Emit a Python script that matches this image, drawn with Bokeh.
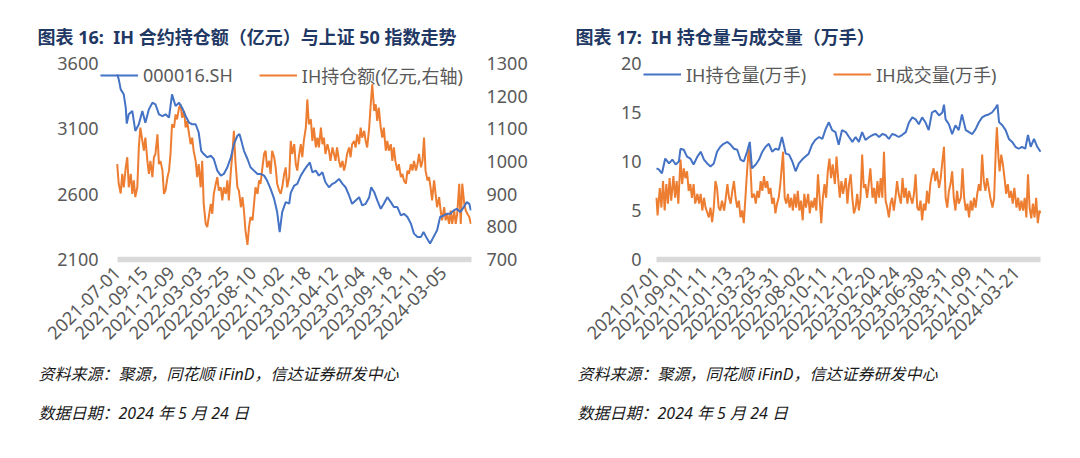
from math import pi
from bokeh.plotting import figure
from bokeh.models import Range1d, LinearAxis, FixedTicker, Legend, LegendItem
from bokeh.core.properties import value
from bokeh.layouts import row, column
from bokeh.embed import file_html
from bokeh.resources import INLINE

# ---------------- data (x = trading-day number counted from 2021-07-01) ----------------
# Chart 16: 上证50 (000016.SH, left axis) and IH 持仓额 (亿元, right axis)
sz50_day = [0, 3, 7, 13, 17, 19, 23, 30, 36, 43, 50, 56, 63, 70, 76, 83, 90, 96, 103, 109,
            116, 123, 129, 136, 143, 149, 156, 162, 167, 172, 179, 186, 192, 199, 206, 212,
            219, 226, 232, 239, 243, 246, 252, 259, 265, 272, 279, 285, 292, 298, 305, 312,
            318, 323, 328, 335, 342, 345, 352, 358, 365, 371, 378, 383, 388, 395, 401, 408,
            414, 421, 428, 434, 441, 448, 454, 461, 467, 474, 481, 487, 494, 501, 505, 511,
            517, 524, 530, 537, 544, 550, 557, 564, 570, 577, 584, 590, 597, 604, 609, 616,
            622, 629, 636, 642, 649, 655, 662, 669, 675, 682, 689, 695, 700, 703]
sz50_close = [3516, 3480, 3402, 3364, 3262, 3140, 3211, 3237, 3084, 3135, 3237, 3147, 3249,
              3300, 3288, 3211, 3198, 3211, 3186, 3364, 3275, 3300, 3262, 3198, 3147, 3135,
              3135, 3072, 2932, 2907, 2882, 2894, 2869, 2780, 2742, 2755, 2806, 2882, 2983,
              3047, 3060, 3021, 2932, 2869, 2806, 2780, 2755, 2755, 2742, 2704, 2640, 2564,
              2463, 2310, 2463, 2539, 2527, 2610, 2666, 2679, 2742, 2780, 2818, 2843, 2767,
              2780, 2742, 2767, 2691, 2653, 2679, 2691, 2717, 2679, 2653, 2590, 2526, 2552,
              2577, 2514, 2526, 2577, 2653, 2615, 2552, 2488, 2526, 2577, 2539, 2501, 2501,
              2437, 2450, 2425, 2374, 2298, 2273, 2273, 2311, 2260, 2222, 2273, 2324, 2425,
              2437, 2450, 2450, 2476, 2488, 2463, 2501, 2539, 2526, 2476]

ih_amt_day = [0, 3, 7, 10, 13, 17, 20, 23, 27, 30, 33, 36, 40, 43, 46, 50, 53, 56, 60, 63, 66,
              70, 73, 76, 80, 83, 86, 90, 93, 96, 100, 103, 106, 109, 113, 116, 119, 123, 126,
              129, 133, 136, 139, 143, 146, 149, 152, 156, 159, 162, 166, 169, 172, 176, 179,
              182, 186, 189, 192, 196, 199, 202, 206, 209, 212, 216, 219, 222, 226, 229, 232,
              235, 239, 242, 246, 249, 252, 255, 259, 262, 265, 269, 272, 275, 279, 282, 285,
              288, 292, 295, 298, 302, 305, 308, 312, 315, 318, 322, 325, 328, 332, 335, 338,
              342, 345, 348, 352, 355, 358, 361, 365, 368, 371, 375, 378, 381, 385, 388, 391,
              395, 398, 401, 405, 408, 411, 414, 418, 421, 424, 428, 431, 434, 437, 441, 444,
              448, 451, 454, 457, 461, 464, 467, 471, 474, 477, 481, 484, 487, 491, 494, 497,
              501, 504, 507, 511, 514, 517, 520, 524, 527, 530, 534, 537, 540, 544, 547, 550,
              553, 557, 560, 564, 567, 570, 574, 577, 580, 584, 587, 590, 594, 597, 600, 604,
              607, 610, 613, 617, 620, 623, 626, 630, 633, 636, 640, 643, 646, 650, 653, 656,
              660, 663, 666, 670, 673, 676, 680, 683, 686, 690, 693, 696, 700, 703]
ih_amt = [992, 932, 902, 962, 921, 982, 1013, 921, 962, 901, 942, 891, 921, 1043, 1104, 1063,
          1033, 1073, 1002, 962, 1002, 952, 1013, 1023, 1083, 992, 1002, 972, 901, 911, 952,
          972, 1023, 1114, 1104, 1144, 1129, 1165, 1175, 1134, 1155, 1104, 1124, 1083, 1053,
          1073, 1033, 1002, 952, 992, 921, 1002, 870, 809, 799, 830, 870, 840, 901, 932, 952,
          911, 921, 881, 921, 901, 942, 881, 972, 1023, 1094, 1002, 921, 911, 860, 891, 850,
          789, 745, 799, 830, 820, 870, 921, 901, 942, 932, 972, 1023, 1033, 982, 1002, 962,
          1033, 1013, 982, 932, 911, 901, 921, 962, 982, 921, 952, 1063, 1023, 1053, 992, 972,
          1013, 1053, 1013, 1063, 1104, 1190, 1114, 1129, 1063, 1104, 1043, 1073, 1043, 1104,
          1053, 1073, 1023, 1053, 1033, 1002, 1043, 1023, 1002, 1043, 1002, 982, 1002, 972,
          992, 1023, 1043, 1013, 1053, 1063, 1043, 1083, 1053, 1104, 1073, 1094, 1063, 1043,
          1104, 1175, 1236, 1155, 1175, 1124, 1165, 1104, 1073, 1104, 1033, 1063, 1033, 1053,
          1002, 1043, 1002, 972, 992, 952, 962, 942, 932, 972, 962, 992, 972, 1002, 972, 992,
          1023, 982, 1002, 1073, 972, 942, 952, 921, 881, 942, 901, 860, 891, 850, 820, 860,
          820, 840, 809, 850, 809, 850, 809, 840, 932, 809, 932, 870, 850, 840, 830, 809]

# Chart 17: IH 持仓量 and IH 成交量 (万手)
oi_day = [0, 4, 10, 16, 23, 29, 35, 41, 44, 50, 56, 62, 68, 75, 81, 87, 93, 99, 105, 111,
          117, 123, 130, 136, 142, 148, 154, 160, 166, 171, 175, 182, 188, 194, 200, 206, 212,
          218, 224, 230, 237, 243, 249, 255, 261, 267, 273, 279, 285, 291, 298, 304, 310, 316,
          322, 328, 334, 340, 347, 353, 359, 365, 371, 377, 383, 390, 396, 402, 408, 414, 420,
          426, 432, 438, 444, 450, 457, 463, 469, 475, 481, 487, 493, 499, 505, 511, 518, 524,
          527, 530, 536, 542, 548, 554, 560, 567, 573, 579, 585, 591, 597, 603, 609, 615, 622,
          625, 628, 634, 640, 646, 652, 658, 664, 670, 676, 681, 686, 692, 698, 704]
oi = [9.3, 9.2, 8.8, 10.3, 9.8, 10.2, 9.7, 10.0, 11.3, 11.2, 10.5, 10.3, 9.7, 10.5, 11.0, 10.2,
      9.8, 9.5, 9.8, 11.0, 11.5, 11.8, 12.0, 11.7, 11.3, 11.2, 10.2, 10.0, 11.0, 12.0, 9.3, 9.7,
      10.2, 11.0, 11.5, 11.8, 11.0, 11.3, 11.2, 12.5, 10.8, 10.7, 10.0, 9.0, 9.8, 10.2, 10.5,
      10.8, 11.7, 12.2, 12.5, 12.3, 13.3, 14.0, 13.2, 13.0, 11.7, 13.2, 13.0, 12.5, 12.0, 12.5,
      12.0, 13.0, 12.2, 12.5, 12.7, 12.8, 12.5, 12.8, 12.7, 12.3, 12.8, 12.7, 12.5, 12.7, 13.0,
      14.0, 14.5, 14.3, 13.8, 14.5, 14.0, 13.2, 15.0, 15.2, 14.7, 15.0, 15.8, 14.3, 13.8, 12.8,
      13.7, 13.2, 14.8, 13.2, 13.0, 12.8, 13.3, 14.0, 14.5, 14.7, 14.8, 15.0, 15.5, 15.8, 14.0,
      13.7, 13.2, 12.3, 12.0, 11.5, 11.3, 11.5, 11.3, 12.7, 11.5, 12.3, 11.5, 11.0]

vol_day = [0, 2, 6, 9, 12, 15, 18, 21, 24, 27, 31, 34, 37, 40, 44, 47, 50, 53, 56, 59, 62, 65,
           68, 71, 75, 78, 81, 84, 87, 90, 93, 96, 99, 102, 105, 108, 111, 114, 117, 120, 124,
           127, 130, 133, 136, 139, 142, 145, 148, 151, 154, 157, 160, 163, 166, 169, 172, 175,
           179, 182, 185, 188, 191, 194, 197, 200, 203, 206, 209, 212, 215, 218, 221, 224, 227,
           232, 235, 238, 241, 244, 247, 250, 253, 256, 259, 262, 265, 268, 271, 274, 278, 281,
           284, 287, 290, 293, 296, 299, 302, 305, 308, 311, 314, 317, 320, 323, 327, 330, 333,
           336, 339, 342, 347, 350, 353, 356, 359, 362, 365, 368, 371, 374, 377, 380, 383, 386,
           389, 392, 396, 399, 402, 405, 408, 411, 414, 417, 420, 423, 426, 429, 432, 435, 438,
           441, 444, 448, 451, 454, 457, 460, 463, 466, 469, 472, 475, 478, 481, 484, 487, 490,
           493, 496, 499, 502, 505, 508, 511, 514, 518, 521, 524, 527, 530, 533, 536, 539, 542,
           545, 548, 551, 554, 558, 561, 564, 567, 570, 573, 576, 579, 582, 585, 588, 591, 594,
           597, 600, 603, 606, 609, 612, 616, 619, 622, 624, 627, 629, 632, 635, 638, 641, 644,
           647, 650, 653, 656, 660, 663, 666, 669, 672, 675, 678, 681, 684, 687, 690, 693, 696,
           699, 702, 704]
vol = [6.3, 4.5, 7.3, 5.3, 8.0, 5.0, 7.7, 5.7, 8.3, 6.0, 8.5, 6.3, 8.0, 5.7, 10.2, 7.7, 9.3,
       8.3, 9.0, 7.0, 7.7, 6.3, 7.7, 5.7, 6.7, 5.7, 6.7, 5.0, 6.3, 5.3, 4.8, 4.3, 5.3, 3.8, 5.3,
       8.0, 7.3, 5.3, 5.0, 6.0, 5.0, 6.3, 7.7, 6.3, 5.7, 7.0, 8.0, 6.3, 5.3, 6.0, 4.3, 5.0, 3.7,
       6.3, 9.0, 11.3, 9.7, 6.3, 6.7, 5.7, 7.0, 6.3, 8.0, 7.0, 8.5, 7.3, 8.0, 6.7, 7.3, 5.7, 6.3,
       4.7, 5.7, 6.3, 7.7, 11.0, 6.3, 5.7, 6.7, 5.3, 6.3, 5.0, 6.7, 5.3, 7.0, 5.0, 6.0, 4.0, 6.7,
       5.3, 6.7, 4.7, 6.0, 5.3, 6.3, 5.0, 8.7, 6.3, 3.7, 6.3, 7.7, 6.3, 9.0, 10.3, 8.3, 9.7, 7.7,
       10.5, 8.3, 6.3, 8.0, 6.7, 8.3, 5.7, 7.7, 8.7, 6.3, 4.7, 5.3, 6.7, 5.0, 6.3, 10.7, 7.3,
       7.7, 6.3, 7.7, 9.3, 6.3, 7.3, 5.7, 8.0, 6.3, 8.3, 6.3, 11.0, 6.0, 5.3, 4.3, 5.7, 6.3, 5.0,
       6.3, 8.0, 6.7, 5.7, 8.3, 6.3, 7.3, 5.7, 7.0, 6.3, 5.7, 6.7, 8.7, 5.3, 5.0, 6.0, 4.0, 5.7,
       5.0, 7.0, 5.7, 7.7, 8.7, 9.3, 8.0, 9.0, 7.3, 8.3, 10.0, 11.5, 6.3, 5.3, 7.0, 7.7, 9.0,
       6.3, 5.0, 7.0, 5.7, 6.3, 9.3, 6.3, 5.0, 5.7, 4.3, 6.0, 5.0, 6.3, 5.3, 6.7, 7.7, 7.0, 10.7,
       8.0, 7.0, 8.3, 7.3, 6.3, 5.3, 6.3, 11.3, 13.5, 10.3, 9.0, 10.7, 9.7, 8.3, 6.7, 7.7, 6.3,
       7.0, 5.7, 7.3, 5.3, 6.3, 5.0, 6.0, 5.0, 6.3, 4.3, 8.7, 5.3, 4.2, 5.7, 4.3, 6.3, 3.7, 5.0,
       4.7]

left_tick_days = [0, 54, 108, 162, 216, 270, 324, 378, 432, 486, 540, 594, 648]
left_tick_labels = ["2021-07-01", "2021-09-15", "2021-12-09", "2022-03-03", "2022-05-25",
                    "2022-08-10", "2022-11-02", "2023-01-18", "2023-04-12", "2023-07-04",
                    "2023-09-18", "2023-12-11", "2024-03-05"]
right_tick_days = [0, 44, 88, 132, 176, 220, 264, 308, 352, 396, 440, 484, 528, 572, 616, 660]
right_tick_labels = ["2021-07-01", "2021-09-01", "2021-11-11", "2022-01-13", "2022-03-23",
                     "2022-05-31", "2022-08-02", "2022-10-11", "2022-12-12", "2023-02-20",
                     "2023-04-24", "2023-06-30", "2023-08-31", "2023-11-09", "2024-01-11",
                     "2024-03-21"]
last_day = 704

left_ticks = [2100, 2600, 3100, 3600]
left_right_ticks = [700, 800, 900, 1000, 1100, 1200, 1300]
right_ticks = [0, 5, 10, 15, 20]

title16 = "图表 16:\u00a0\u00a0IH 合约持仓额（亿元）与上证 50 指数走势"
title17 = "图表 17:\u00a0\u00a0IH 持仓量与成交量（万手）"
source_txt = "资料来源：聚源，同花顺 iFinD，信达证券研发中心"
date_txt = "数据日期：2024 年 5 月 24 日"

# ---------------- styling / layout ----------------
FONT = "'Noto Sans', 'Noto Sans CJK SC'"
GRAY = "#595959"
BLUE = "#4472C4"
ORANGE = "#ED7D31"
NAVY = "#1F3864"
NOTE = "#1a1a1a"
W = 540
TOP_H, MAIN_H, NOTE_H = 50, 310, 98


def text_fig(h):
    f = figure(width=W, height=h, x_range=Range1d(0, W), y_range=Range1d(h, 0),
               output_backend="svg", toolbar_location=None, x_axis_location=None,
               y_axis_location=None, min_border=0)
    f.outline_line_color = None
    f.grid.visible = False
    return f


def main_fig(frame_left, frame_w, frame_top, frame_h, day0_px, day_px, y0, y1):
    # frame is a little wider than the data so that the legend fits inside it
    x0 = -(day0_px - frame_left) / day_px
    x1 = x0 + frame_w / day_px
    p = figure(width=W, height=MAIN_H, output_backend="svg", toolbar_location=None,
               x_range=Range1d(x0, x1), y_range=Range1d(y0, y1),
               min_border_left=frame_left, min_border_right=W - frame_left - frame_w,
               min_border_top=frame_top, min_border_bottom=MAIN_H - frame_top - frame_h)
    p.outline_line_color = None
    p.xgrid.visible = False
    p.ygrid.visible = False
    return p


def style_axis(ax, standoff):
    ax.axis_line_color = None
    ax.major_tick_line_color = None
    ax.minor_tick_line_color = None
    ax.major_tick_out = 0
    ax.major_tick_in = 0
    ax.minor_tick_out = 0
    ax.major_label_text_color = GRAY
    ax.major_label_text_font = FONT
    ax.major_label_text_font_size = "18px"
    ax.major_label_standoff = standoff


def style_xaxis(p, ticks, labels):
    ax = p.xaxis[0]
    ax.ticker = FixedTicker(ticks=ticks)
    ax.major_label_overrides = {t: s for t, s in zip(ticks, labels)}
    ax.bounds = (0, last_day)
    ax.axis_line_color = "#D9D9D9"
    ax.axis_line_width = 5.5
    ax.major_tick_line_color = None
    ax.minor_tick_line_color = None
    ax.major_tick_out = 0
    ax.major_tick_in = 0
    ax.minor_tick_out = 0
    ax.major_label_orientation = pi / 4
    ax.major_label_text_color = GRAY
    ax.major_label_text_font = FONT
    ax.major_label_text_font_size = "18px"
    ax.major_label_standoff = 10


def add_legend(p, items, x, y, spacing):
    lg = Legend(items=items, orientation="horizontal", location=(x, y), padding=0, margin=0,
                spacing=spacing, glyph_width=38, glyph_height=20, label_height=20,
                label_standoff=5, border_line_color=None, background_fill_alpha=0,
                label_text_font=FONT, label_text_font_size="18px", label_text_color=GRAY)
    p.add_layout(lg, "center")


def add_texts(f, xs, ys, texts, size, style, color):
    f.text(x=xs, y=ys, text=texts, text_font=value(FONT), text_font_size=value(size),
           text_font_style=style, text_color=color, text_baseline="middle", text_align="left")


# ---------------- chart 16 ----------------
p1 = main_fig(99, 372, 12, 197, 116.7, 0.503, left_ticks[0], left_ticks[-1])
p1.extra_y_ranges = {"amt": Range1d(left_right_ticks[0], left_right_ticks[-1])}
p1.yaxis[0].ticker = FixedTicker(ticks=left_ticks)
style_axis(p1.yaxis[0], 1)
ax_r = LinearAxis(y_range_name="amt", ticker=FixedTicker(ticks=left_right_ticks))
style_axis(ax_r, 15)
p1.add_layout(ax_r, "right")
style_xaxis(p1, left_tick_days, left_tick_labels)

r_amt = p1.line(ih_amt_day, ih_amt, y_range_name="amt", line_color=ORANGE, line_width=2)
r_sz = p1.line(sz50_day, sz50_close, line_color=BLUE, line_width=2)
add_legend(p1, [LegendItem(label=value("000016.SH"), renderers=[r_sz]),
                LegendItem(label=value("IH持仓额(亿元,右轴)"), renderers=[r_amt])],
           1, 171, 26)

# ---------------- chart 17 ----------------
p2 = main_fig(102, 399, 13, 200, 116.0, 0.5455, right_ticks[0], right_ticks[-1])
p2.yaxis[0].ticker = FixedTicker(ticks=right_ticks)
style_axis(p2.yaxis[0], 1)
style_xaxis(p2, right_tick_days, right_tick_labels)

r_vol = p2.line(vol_day, vol, line_color=ORANGE, line_width=2)
r_oi = p2.line(oi_day, oi, line_color=BLUE, line_width=2)
add_legend(p2, [LegendItem(label=value("IH持仓量(万手)"), renderers=[r_oi]),
                LegendItem(label=value("IH成交量(万手)"), renderers=[r_vol])],
           1, 172, 27)

# ---------------- titles and notes ----------------
t1 = text_fig(TOP_H)
add_texts(t1, [37], [36], [title16], "18px", "bold", NAVY)
t2 = text_fig(TOP_H)
add_texts(t2, [35], [36], [title17], "18px", "bold", NAVY)
n1 = text_fig(NOTE_H)
add_texts(n1, [38, 38], [13, 52], [source_txt, date_txt], "16px", "italic", NOTE)
n2 = text_fig(NOTE_H)
add_texts(n2, [37, 37], [13, 52], [source_txt, date_txt], "16px", "italic", NOTE)

layout = column(row(t1, t2), row(p1, p2), row(n1, n2))
open("out.html", "w").write(file_html(layout, INLINE))
